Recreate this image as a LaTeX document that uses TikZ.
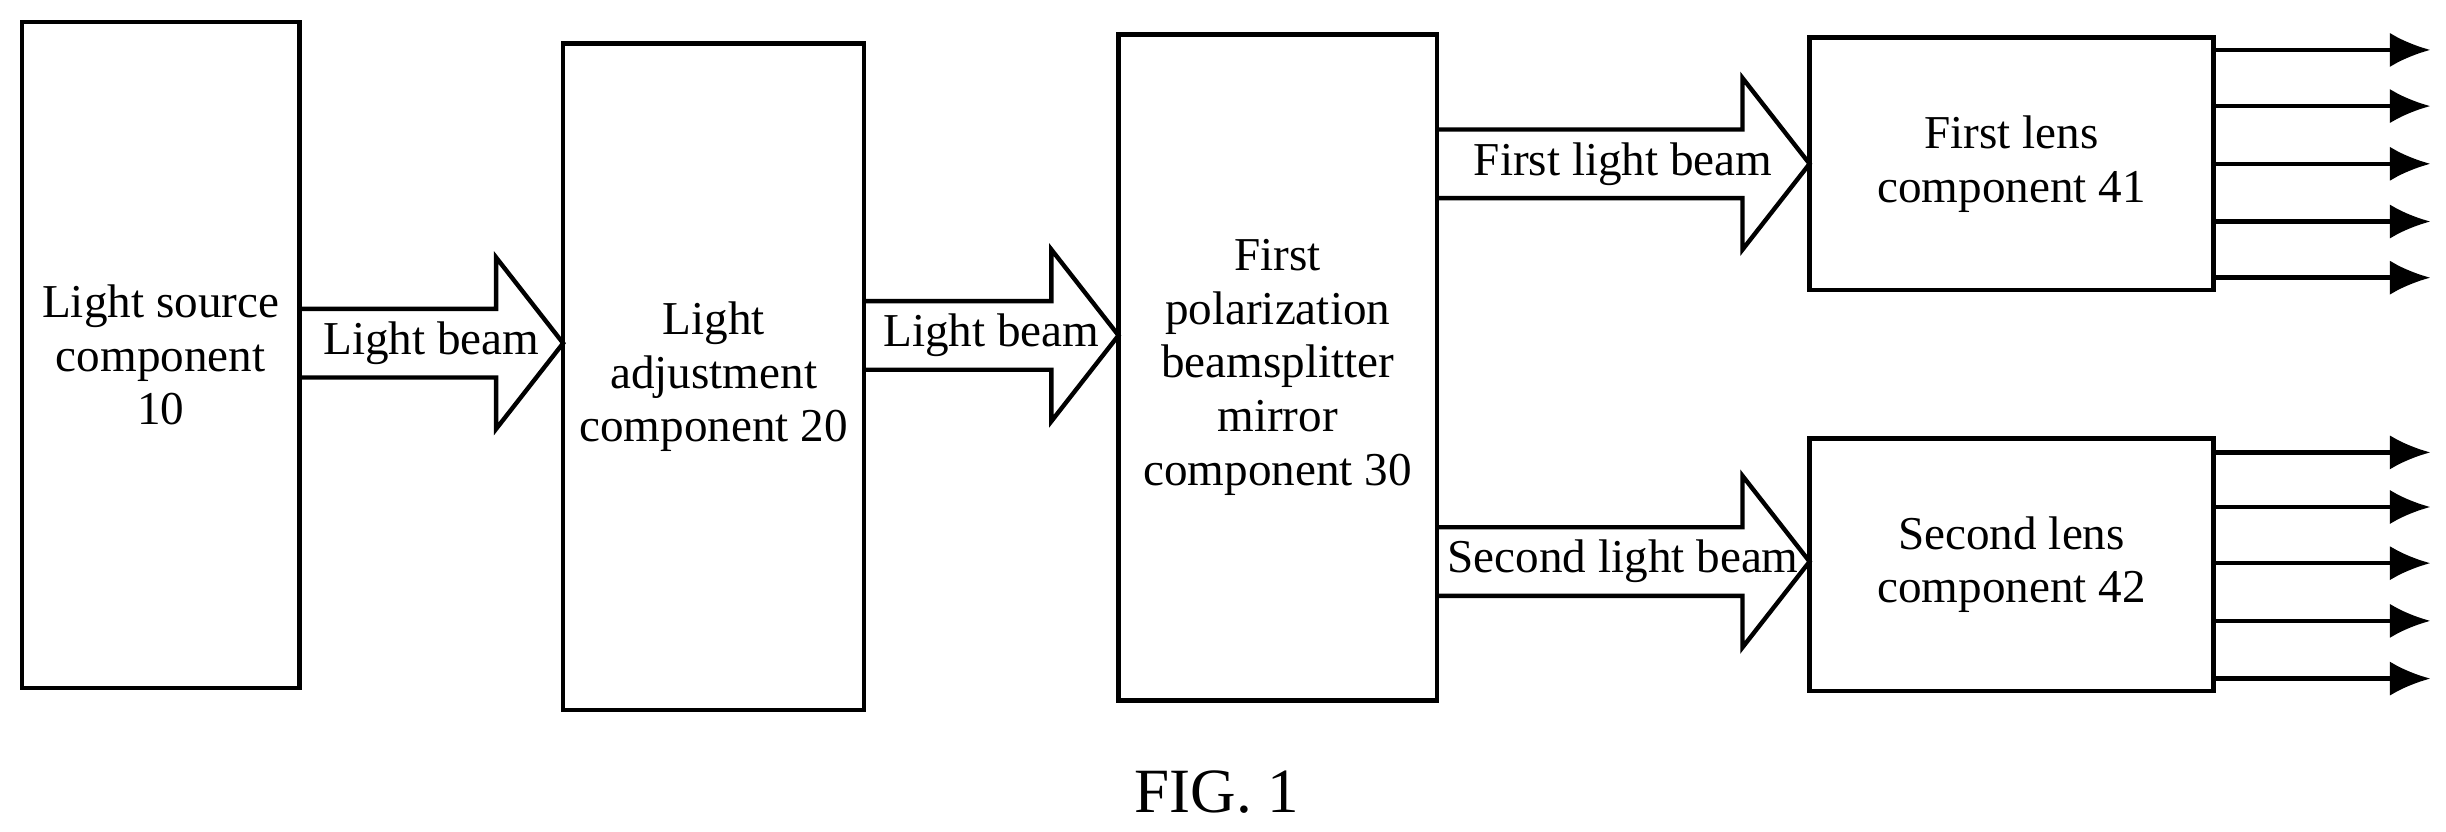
\documentclass[tikz,border=0pt]{standalone}
\usepackage{fontspec}
\setmainfont{Liberation Serif}
\usetikzlibrary{calc,arrows.meta}
\tikzset{
  block/.style={draw, thick, align=center, inner sep=0pt, font=\fontsize{8.6}{9.8}\selectfont},
  beamtext/.style={font=\fontsize{8.6}{9.8}\selectfont, inner sep=0pt},
  ray/.style={thick, -{Latex[length=2.6mm,width=2.2mm]}}
}
% fat arrow: #1 start, #2 tip (same y), #3 label
\newcommand{\beamarrow}[3]{
  \draw[thick] ($#1+(0,0.22)$) -- ($#2+(-0.43,0.22)$) -- ($#2+(-0.43,0.55)$) -- #2
    -- ($#2+(-0.43,-0.55)$) -- ($#2+(-0.43,-0.22)$) -- ($#1+(0,-0.22)$);
  \node[beamtext] at ($#1!0.5!#2$) {#3};
}
\begin{document}
\begin{tikzpicture}[x=1cm,y=1cm]
  \useasboundingbox (0,0) rectangle (15.68,5.33);

  \node[block, minimum width=1.78cm, minimum height=4.27cm] (src) at (1.03,3.055) {Light source\\component\\10};
  \node[block, minimum width=1.93cm, minimum height=4.27cm] (adj) at (4.575,2.915) {Light\\adjustment\\component 20};
  \node[block, minimum width=2.04cm, minimum height=4.27cm] (pbs) at (8.19,2.975) {First\\polarization\\beamsplitter\\mirror\\component 30};
  \node[block, minimum width=2.59cm, minimum height=1.62cm] (lens1) at (12.895,4.28) {First lens\\component 41};
  \node[block, minimum width=2.59cm, minimum height=1.62cm] (lens2) at (12.895,1.71) {Second lens\\component 42};

  % beams between the blocks
  \beamarrow{(1.92,3.13)}{(3.61,3.13)}{Light beam}
  \beamarrow{(5.54,3.18)}{(7.17,3.18)}{Light beam}
  \beamarrow{(9.21,4.28)}{(11.60,4.28)}{First light beam}
  \beamarrow{(9.21,1.73)}{(11.60,1.73)}{Second light beam}

  % output rays
  \foreach \y in {5.01,4.65,4.28,3.91,3.55}
    \draw[ray] (lens1.east |- 0,\y) -- (15.58,\y);
  \foreach \y in {2.43,2.08,1.72,1.35,0.98}
    \draw[ray] (lens2.east |- 0,\y) -- (15.58,\y);

  \node[font=\fontsize{11.5}{13}\selectfont] (fig) at (7.8,0.25) {FIG. 1};
\end{tikzpicture}
\end{document}
